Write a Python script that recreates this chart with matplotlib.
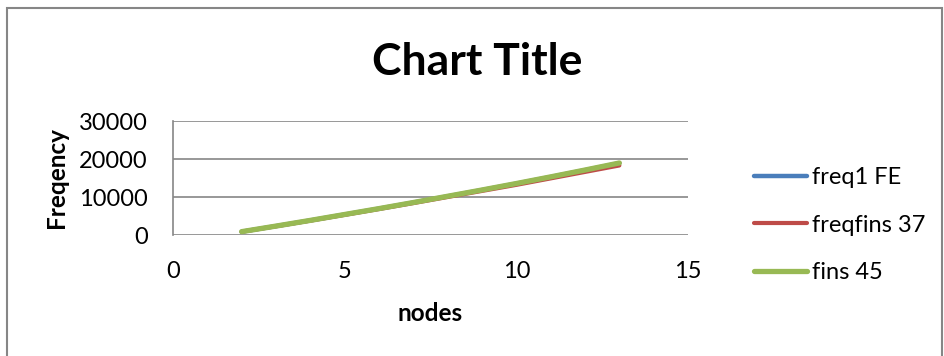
import matplotlib
matplotlib.use("Agg")
import matplotlib.pyplot as plt
from matplotlib.patches import Rectangle

plt.rcParams['font.family'] = ['Lato', 'DejaVu Sans']

nodes = [2, 3, 4, 5, 6, 7, 8, 9, 10, 11, 12, 13]
freq1_fe = [870, 2340, 3840, 5390, 6940, 8540, 10180, 11830, 13520, 15270, 17070, 18900]
freqfins_37 = [860, 2300, 3780, 5300, 6830, 8400, 10000, 11600, 13200, 14900, 16600, 18300]
fins_45 = [880, 2350, 3850, 5400, 6950, 8550, 10200, 11850, 13550, 15300, 17100, 18950]

series_names = ["freq1 FE", "freqfins 37", "fins 45"]
colors = ["#4a7ebb", "#be4b48", "#98b954"]

fig = plt.figure(figsize=(9.44, 3.56), dpi=100)
W, H = 944, 356

# chart area border
fig.patches.append(Rectangle((7 / W, -0.01), (935 / W), (1 - 8 / H) + 0.01,
                             transform=fig.transFigure, fill=False,
                             edgecolor="#868686", linewidth=1.5))

ax = fig.add_axes([173 / W, 1 - 235 / H, (688 - 173) / W, (235 - 121) / H])
for name, vals, c, lw in zip(series_names, [freq1_fe, freqfins_37, fins_45],
                             colors, [3.2, 3.0, 3.8]):
    ax.plot(nodes, vals, color=c, linewidth=lw, label=name,
            solid_capstyle="round")

ax.set_xlim(0, 15)
ax.set_ylim(0, 30000)
ax.set_xticks([0, 5, 10, 15])
ax.set_yticks([0, 10000, 20000, 30000])
ax.tick_params(axis="both", length=0, labelsize=17)
ax.tick_params(axis="x", pad=19)
ax.tick_params(axis="y", pad=18)
ax.grid(axis="y", color="#868686", linewidth=1.2)
ax.set_axisbelow(True)
for s in ["top", "right", "bottom"]:
    ax.spines[s].set_visible(False)
ax.spines["left"].set_color("#868686")
ax.spines["left"].set_linewidth(1.2)

ax.set_xlabel("nodes", fontsize=17.5, fontweight="bold", labelpad=14)
ax.set_ylabel("Freqency", fontsize=17.5, fontweight="bold", labelpad=8)
fig.text(0.505, 1 - 62 / H, "Chart Title", ha="center", va="center",
         fontsize=32, fontweight="bold")

fig.legend(loc="center left", bbox_to_anchor=(733 / W, 1 - 225 / H),
           frameon=False, fontsize=17, handlelength=2.25, handletextpad=0.2,
           labelspacing=1.13)

fig.savefig("out.png", dpi=100, facecolor="white")
